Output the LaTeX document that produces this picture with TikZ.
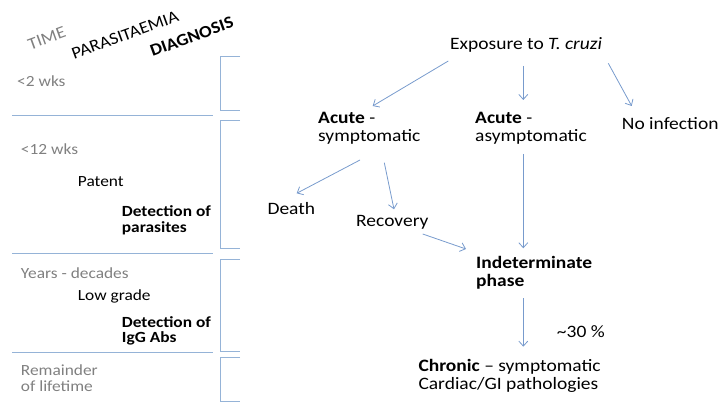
\documentclass[tikz,border=0pt]{standalone}
\usepackage{fontspec}
\setmainfont{Carlito}
\usetikzlibrary{arrows.meta}
\definecolor{stageblue}{RGB}{149,179,215}
\definecolor{flowblue}{RGB}{120,155,205}
\definecolor{labelgrey}{RGB}{128,128,128}

\begin{document}
\begin{tikzpicture}[x=1pt,y=-1pt,
			every node/.style={inner sep=0, anchor=west, align=left},
			big/.style={font=\fontsize{17.4}{17.8}\selectfont, xscale=1.12},
			small/.style={font=\fontsize{15.5}{15.6}\selectfont, xscale=1.12},
			hdr/.style={font=\fontsize{17}{20}\selectfont, rotate=20, xscale=1.1, anchor=center},
			faint/.style={text=labelgrey},
			flow/.style={draw=flowblue, line width=0.8pt, -{Straight Barb[length=5pt,width=9pt]}},
			sep/.style={draw=stageblue, line width=0.8pt}]
			
			\useasboundingbox (0,0) rectangle (721,403);
			
			% column headings
			\node[hdr, faint] (time) at (46.7,38.3) {TIME};
			\node[hdr] (para) at (125,35) {PARASITAEMIA};
			\node[hdr] (diag) at (191.7,36.7) {\textbf{DIAGNOSIS}};
			
			% stages
			\node[small, faint] (wk2) at (17,81) {<2 wks};
			\node[small, faint] (wk12) at (20.7,149) {<12 wks};
			\node[small] (patent) at (77.7,181.7) {Patent};
			\node[small] (detpar) at (121.7,220) {\textbf{Detection of}\\\textbf{parasites}};
			\node[small, faint] (years) at (20.7,273.3) {Years - decades};
			\node[small] (lowgrade) at (77.7,296.7) {Low grade};
			\node[small] (detigg) at (121.7,331) {\textbf{Detection of}\\\textbf{IgG Abs}};
			\node[small, faint] (remain) at (20.7,378) {Remainder\\of lifetime};
			
			\foreach \y in {115.7,253.5,352.5}
			\draw[sep] (12,\y) -- (213,\y);
			\foreach \top/\bot in {56.7/110,120.7/248,259.3/351,357.7/401.7}
			\draw[sep] (240,\top) -- (220.7,\top) -- (220.7,\bot) -- (240,\bot);
			
			% course of infection
			\node[big] (exposure) at (450,45) {Exposure to \textit{T. cruzi}};
			\node[big] (acsym) at (318,128.3) {\textbf{Acute} -\\symptomatic};
			\node[big] (acasym) at (475,128.3) {\textbf{Acute} -\\asymptomatic};
			\node[big] (noinf) at (621.7,123.3) {No infection};
			\node[big] (death) at (267.3,208.3) {Death};
			\node[big] (recovery) at (356,222.7) {Recovery};
			\node[big] (indet) at (476,272.5) {\textbf{Indeterminate}\\\textbf{phase}};
			\node[big] (pct) at (556.7,331.7) {\textasciitilde30 \%};
			\node[big] (chronic) at (418.3,375.5) {\textbf{Chronic} -- symptomatic\\Cardiac/GI pathologies};
			
			\draw[flow] ([shift={(-1.7,16)}]exposure.west) -- ([shift={(54.7,-22.3)}]acsym.west);
			\draw[flow] ([shift={(73.3,21)}]exposure.west) -- ([shift={(48.3,-28.3)}]acasym.west);
			\draw[flow] ([shift={(158.3,18.3)}]exposure.west) -- ([shift={(10,-17.3)}]noinf.west);
			\draw[flow] ([shift={(42,31.7)}]acsym.west) -- ([shift={(29.4,-15)}]death.west);
			\draw[flow] ([shift={(66.3,34.4)}]acsym.west) -- ([shift={(38,-13.4)}]recovery.west);
			\draw[flow] ([shift={(66.7,11.3)}]recovery.west) -- ([shift={(-10,-23.5)}]indet.west);
			\draw[flow] ([shift={(48.3,25.7)}]acasym.west) -- ([shift={(47.3,-24.2)}]indet.west);
			\draw[flow] ([shift={(47.3,25.8)}]indet.west) -- ([shift={(105,-28.8)}]chronic.west);
			\end{tikzpicture}
\end{document}
